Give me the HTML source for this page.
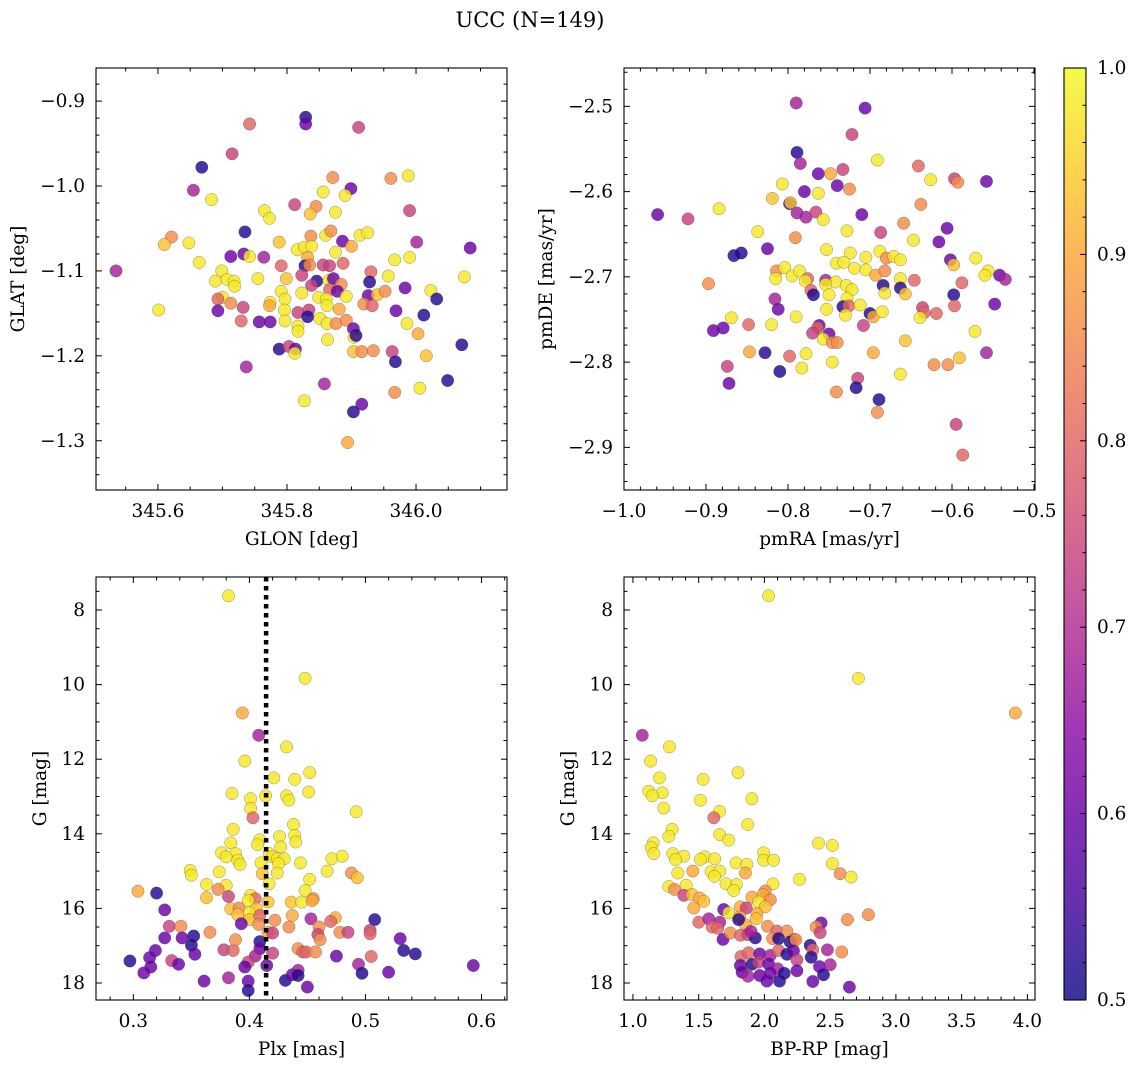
<!DOCTYPE html>
<html><head><meta charset="utf-8"><style>
html,body{margin:0;padding:0;background:#fff;}
svg{display:block;font-family:"DejaVu Serif","Liberation Serif",serif;}
</style></head><body>
<svg id="fig" width="1136" height="1067" viewBox="0 0 1136 1067" xmlns="http://www.w3.org/2000/svg">
<text x="530" y="27" font-size="21" text-anchor="middle">UCC (N=149)</text>
</svg>
<script>
// ---- data: panel 1 (GLON/GLAT) ----
const p1x=[345.829,345.829,345.742,345.911,345.715,345.668,345.655,345.683,345.871,345.961,345.988,345.899,345.856,345.890,345.812,345.845,345.765,345.773,345.836,345.875,345.990,345.735,345.621,345.610,345.648,345.788,345.837,345.860,345.868,345.886,345.900,345.913,345.925,346.001,346.084,345.816,345.827,345.838,345.713,345.733,345.742,345.764,345.832,345.875,345.967,345.990,345.664,345.791,345.828,345.835,345.856,345.866,345.887,345.535,345.699,345.689,345.707,345.718,345.719,345.755,345.799,345.823,345.846,345.838,345.865,345.872,345.884,345.866,345.878,345.930,345.928,345.957,345.983,346.023,346.032,346.075,345.823,345.791,345.797,345.774,345.773,345.700,345.693,345.713,345.732,345.693,345.601,345.849,345.861,345.862,345.892,345.926,345.940,345.952,345.919,345.932,345.881,345.796,345.817,345.834,345.832,345.729,345.757,345.774,345.797,345.817,345.817,345.851,345.862,345.876,345.892,345.903,345.904,345.907,345.863,345.969,346.012,345.986,346.003,346.071,345.788,345.803,345.813,345.812,345.903,345.916,345.934,345.963,345.968,346.016,345.737,345.858,346.049,345.967,346.006,345.827,345.916,345.903,345.894];
const p1y=[-0.919,-0.927,-0.927,-0.931,-0.962,-0.978,-1.005,-1.016,-0.990,-0.991,-0.988,-1.003,-1.007,-1.011,-1.022,-1.024,-1.029,-1.038,-1.033,-1.031,-1.029,-1.054,-1.060,-1.069,-1.067,-1.066,-1.059,-1.058,-1.053,-1.065,-1.071,-1.058,-1.055,-1.066,-1.073,-1.075,-1.072,-1.071,-1.083,-1.080,-1.083,-1.084,-1.084,-1.078,-1.087,-1.084,-1.090,-1.094,-1.094,-1.093,-1.093,-1.094,-1.091,-1.100,-1.100,-1.112,-1.110,-1.112,-1.118,-1.109,-1.109,-1.105,-1.112,-1.117,-1.111,-1.109,-1.116,-1.122,-1.124,-1.101,-1.113,-1.106,-1.120,-1.123,-1.133,-1.107,-1.126,-1.124,-1.133,-1.137,-1.141,-1.131,-1.133,-1.138,-1.143,-1.147,-1.146,-1.131,-1.133,-1.141,-1.130,-1.129,-1.128,-1.124,-1.139,-1.141,-1.145,-1.146,-1.149,-1.146,-1.154,-1.159,-1.160,-1.160,-1.159,-1.165,-1.171,-1.156,-1.162,-1.162,-1.158,-1.168,-1.178,-1.176,-1.181,-1.147,-1.152,-1.162,-1.174,-1.187,-1.192,-1.189,-1.192,-1.197,-1.195,-1.195,-1.194,-1.195,-1.207,-1.200,-1.213,-1.233,-1.229,-1.243,-1.238,-1.253,-1.257,-1.266,-1.302];
const p1c=[.52,.6,.8,.74,.74,.52,.68,.98,.86,.86,.98,.6,.98,.98,.74,.86,.98,.98,.93,.98,.74,.52,.86,.93,.98,.93,.86,.98,.86,.6,.9,.98,.98,.68,.6,.98,.98,.98,.6,.6,.98,.68,.9,.98,.98,.98,.98,.8,.52,.86,.74,.74,.8,.68,.98,.98,.98,.98,.98,.98,.93,.74,.52,.74,.98,.6,.86,.8,.6,.8,.52,.98,.6,.98,.52,.98,.98,.98,.98,.98,.9,.98,.8,.86,.74,.6,.98,.98,.98,.98,.98,.6,.93,.86,.86,.8,.9,.98,.74,.74,.52,.8,.6,.6,.98,.98,.98,.98,.98,.86,.86,.6,.98,.52,.98,.6,.52,.98,.9,.52,.52,.74,.6,.98,.93,.86,.86,.74,.52,.93,.68,.68,.52,.86,.98,.98,.6,.52,.9];
// ---- data: panel 2 (pmRA/pmDE) ----
const p2x=[-0.790,-0.706,-0.722,-0.789,-0.785,-0.691,-0.763,-0.748,-0.733,-0.641,-0.626,-0.597,-0.593,-0.558,-0.807,-0.780,-0.763,-0.740,-0.725,-0.819,-0.798,-0.797,-0.638,-0.959,-0.922,-0.884,-0.789,-0.778,-0.766,-0.757,-0.710,-0.837,-0.791,-0.728,-0.687,-0.659,-0.647,-0.606,-0.616,-0.866,-0.857,-0.825,-0.753,-0.724,-0.705,-0.688,-0.680,-0.671,-0.663,-0.741,-0.732,-0.719,-0.705,-0.602,-0.598,-0.571,-0.556,-0.560,-0.542,-0.535,-0.897,-0.814,-0.804,-0.815,-0.795,-0.786,-0.776,-0.779,-0.754,-0.742,-0.729,-0.722,-0.693,-0.682,-0.663,-0.646,-0.588,-0.772,-0.769,-0.754,-0.750,-0.684,-0.682,-0.663,-0.657,-0.598,-0.816,-0.812,-0.728,-0.733,-0.726,-0.753,-0.712,-0.730,-0.700,-0.696,-0.685,-0.636,-0.634,-0.619,-0.639,-0.597,-0.548,-0.869,-0.891,-0.879,-0.848,-0.820,-0.790,-0.762,-0.764,-0.770,-0.750,-0.757,-0.746,-0.740,-0.708,-0.657,-0.572,-0.847,-0.828,-0.798,-0.778,-0.746,-0.696,-0.622,-0.605,-0.591,-0.558,-0.874,-0.872,-0.810,-0.783,-0.663,-0.715,-0.717,-0.741,-0.689,-0.691,-0.595,-0.587];
const p2y=[-2.496,-2.502,-2.533,-2.554,-2.567,-2.563,-2.579,-2.579,-2.574,-2.570,-2.586,-2.585,-2.589,-2.588,-2.591,-2.600,-2.602,-2.593,-2.597,-2.608,-2.614,-2.613,-2.615,-2.627,-2.632,-2.620,-2.625,-2.630,-2.624,-2.633,-2.627,-2.647,-2.654,-2.646,-2.648,-2.637,-2.657,-2.643,-2.659,-2.675,-2.672,-2.667,-2.668,-2.672,-2.677,-2.670,-2.678,-2.676,-2.680,-2.684,-2.683,-2.690,-2.692,-2.680,-2.686,-2.678,-2.693,-2.698,-2.698,-2.703,-2.708,-2.693,-2.689,-2.702,-2.699,-2.693,-2.702,-2.705,-2.704,-2.706,-2.710,-2.715,-2.698,-2.693,-2.702,-2.704,-2.707,-2.716,-2.721,-2.709,-2.721,-2.710,-2.719,-2.713,-2.720,-2.721,-2.726,-2.738,-2.725,-2.735,-2.734,-2.738,-2.733,-2.745,-2.743,-2.747,-2.741,-2.736,-2.742,-2.743,-2.748,-2.734,-2.732,-2.748,-2.763,-2.760,-2.756,-2.756,-2.747,-2.757,-2.760,-2.766,-2.767,-2.773,-2.777,-2.777,-2.757,-2.775,-2.764,-2.788,-2.789,-2.793,-2.790,-2.800,-2.789,-2.803,-2.803,-2.795,-2.789,-2.805,-2.825,-2.811,-2.807,-2.814,-2.819,-2.830,-2.835,-2.844,-2.859,-2.873,-2.909];
const p2c=[.68,.6,.74,.52,.68,.98,.6,.9,.74,.8,.98,.74,.86,.6,.98,.6,.98,.6,.86,.93,.52,.93,.86,.6,.74,.98,.68,.68,.74,.98,.6,.98,.86,.98,.74,.86,.98,.6,.6,.52,.52,.6,.98,.98,.98,.98,.86,.98,.98,.98,.98,.98,.98,.6,.93,.98,.98,.98,.6,.68,.86,.86,.98,.98,.98,.98,.8,.98,.68,.98,.98,.98,.9,.86,.98,.8,.8,.8,.52,.98,.98,.52,.98,.52,.93,.52,.68,.6,.98,.52,.8,.98,.98,.98,.52,.9,.98,.74,.8,.8,.98,.8,.6,.98,.6,.6,.8,.98,.98,.6,.8,.74,.6,.98,.86,.86,.74,.93,.98,.9,.52,.8,.98,.98,.9,.86,.86,.93,.68,.74,.6,.52,.98,.98,.74,.52,.86,.52,.86,.74,.8];
// ---- data: panel 3 (Plx/G) ----
const p3x=[.382,.448,.394,.408,.432,.396,.452,.421,.439,.451,.385,.401,.414,.432,.434,.401,.492,.403,.438,.386,.426,.439,.440,.384,.409,.407,.427,.376,.388,.380,.390,.392,.417,.420,.424,.430,.410,.425,.444,.471,.480,.349,.350,.374,.424,.411,.467,.488,.493,.452,.417,.363,.380,.373,.304,.320,.382,.363,.401,.405,.399,.448,.416,.436,.445,.455,.454,.327,.384,.391,.406,.400,.390,.400,.409,.422,.437,.453,.474,.470,.508,.331,.341,.366,.393,.408,.416,.420,.434,.460,.459,.461,.478,.485,.504,.504,.327,.342,.352,.350,.353,.319,.314,.297,.333,.339,.315,.309,.378,.386,.388,.409,.409,.405,.399,.396,.420,.415,.442,.446,.449,.457,.475,.494,.505,.497,.520,.530,.533,.543,.593,.361,.382,.399,.399,.431,.437,.442,.442,.450];
const p3y=[7.62,9.83,10.76,11.36,11.67,12.05,12.36,12.50,12.54,12.88,12.92,13.06,12.98,12.98,13.10,13.32,13.41,13.57,13.75,13.88,14.07,14.04,14.22,14.24,14.16,14.29,14.35,14.51,14.53,14.62,14.71,14.82,14.53,14.62,14.67,14.67,14.78,14.80,14.78,14.67,14.60,14.98,15.11,15.02,15.05,15.07,15.00,15.05,15.18,15.22,15.34,15.36,15.38,15.49,15.54,15.59,15.68,15.71,15.65,15.74,15.79,15.52,15.83,15.83,15.83,15.74,15.79,16.04,16.01,15.99,16.01,16.12,16.17,16.30,16.19,16.32,16.19,16.28,16.25,16.35,16.30,16.48,16.48,16.64,16.41,16.43,16.64,16.66,16.50,16.50,16.70,16.84,16.64,16.64,16.59,16.68,16.79,16.79,16.74,16.99,17.23,17.13,17.32,17.41,17.40,17.50,17.57,17.73,17.11,17.13,16.84,16.89,17.08,17.28,17.44,17.57,17.20,17.53,17.08,17.17,17.17,17.17,17.28,17.50,17.29,17.74,17.71,16.81,17.13,17.22,17.53,17.95,17.86,17.95,18.20,17.93,17.78,17.66,17.80,18.11];
const p3c=[.98,.98,.9,.68,.98,.98,.98,.98,.98,.98,.98,.98,.98,.98,.98,.98,.98,.8,.98,.98,.98,.98,.98,.98,.98,.98,.98,.98,.98,.98,.98,.98,.98,.98,.98,.98,.98,.98,.98,.98,.98,.98,.98,.98,.98,.93,.98,.86,.93,.98,.98,.98,.98,.86,.9,.52,.74,.93,.98,.8,.98,.98,.93,.93,.98,.86,.9,.6,.93,.86,.93,.98,.93,.93,.8,.86,.9,.68,.9,.8,.52,.74,.86,.86,.6,.86,.9,.74,.86,.86,.74,.86,.86,.74,.74,.8,.6,.6,.52,.52,.6,.6,.6,.52,.74,.6,.6,.6,.74,.8,.86,.52,.6,.68,.74,.6,.74,.6,.86,.8,.8,.86,.6,.68,.8,.52,.6,.6,.52,.52,.6,.6,.68,.6,.52,.52,.6,.68,.52,.6];
const plxMean=[0.4144];
// ---- data: panel 4 (BP-RP/G) ----
const p4x=[2.032,2.715,3.908,1.071,1.278,1.134,1.799,1.202,1.534,1.121,1.223,1.147,1.905,1.513,1.235,1.658,1.615,1.873,1.298,1.273,1.660,1.728,2.411,2.517,1.154,1.139,1.159,1.303,1.387,1.324,1.546,1.513,1.622,1.994,1.994,2.070,1.784,1.867,1.855,1.341,1.455,1.594,1.660,1.620,2.517,2.576,2.659,2.267,1.273,1.316,1.405,1.708,1.787,1.766,2.065,2.007,1.387,1.450,1.508,1.539,1.905,1.989,2.045,1.956,1.463,1.690,1.728,1.817,1.862,2.007,1.943,1.938,1.812,1.501,1.577,1.660,1.602,1.645,1.855,1.804,1.685,1.741,1.817,1.873,1.931,1.898,2.024,2.095,2.171,2.062,2.108,2.227,2.196,2.239,2.431,2.394,2.424,2.631,2.791,2.348,2.368,2.356,2.479,2.588,1.822,1.880,1.964,2.045,2.108,2.171,2.221,2.247,1.817,1.905,1.956,2.032,2.100,1.830,1.875,1.964,2.045,2.151,2.019,2.115,2.247,2.419,2.500,2.449,2.368,2.646];
const p4y=[7.62,9.83,10.76,11.36,11.67,12.05,12.36,12.50,12.54,12.86,12.90,12.98,13.06,13.10,13.31,13.40,13.57,13.75,13.88,14.07,14.02,14.17,14.25,14.31,14.24,14.37,14.53,14.53,14.60,14.69,14.62,14.69,14.67,14.51,14.71,14.71,14.78,14.82,15.05,15.05,15.00,15.02,15.00,15.14,14.80,15.07,15.16,15.22,15.41,15.49,15.38,15.34,15.36,15.52,15.34,15.53,15.65,15.63,15.72,15.81,15.70,15.63,15.77,15.83,15.99,16.03,16.12,15.96,15.99,15.96,16.14,16.28,16.23,16.37,16.28,16.37,16.50,16.53,16.44,16.30,16.83,16.66,16.72,16.70,16.79,16.62,16.48,16.61,16.61,16.81,16.81,16.83,16.90,16.84,16.39,16.50,16.65,16.30,16.17,16.99,17.11,17.31,17.11,17.17,17.29,17.19,17.22,17.26,17.13,17.23,17.14,17.38,17.53,17.50,17.44,17.49,17.62,17.71,17.82,17.80,17.74,17.74,17.95,17.95,17.67,17.56,17.51,17.78,17.96,18.11];
const p4c=[.98,.98,.9,.68,.98,.98,.98,.98,.98,.98,.98,.98,.98,.98,.98,.98,.8,.98,.98,.98,.98,.98,.98,.98,.98,.98,.98,.98,.98,.98,.98,.98,.98,.98,.98,.98,.98,.98,.9,.98,.9,.98,.98,.98,.98,.86,.98,.98,.98,.86,.98,.98,.98,.98,.98,.86,.74,.93,.9,.93,.9,.9,.86,.98,.9,.6,.98,.9,.74,.93,.9,.93,.9,.8,.68,.68,.8,.8,.9,.52,.6,.86,.8,.74,.52,.68,.86,.8,.86,.86,.52,.8,.52,.86,.6,.86,.74,.86,.86,.52,.8,.52,.68,.86,.8,.8,.6,.68,.8,.52,.6,.74,.6,.52,.74,.6,.68,.6,.68,.6,.6,.52,.6,.52,.6,.6,.68,.52,.6,.6];
// ---- tick labels ----
const p1xTicks=[345.6,345.8,346.0], p1yTicks=[-0.9,-1.0,-1.1,-1.2,-1.3];
const p2xTicks=[-1.0,-0.9,-0.8,-0.7,-0.6,-0.5], p2yTicks=[-2.5,-2.6,-2.7,-2.8,-2.9];
const p3xTicks=[0.3,0.4,0.5,0.6], gTicks=[8,10,12,14,16,18];
const p4xTicks=[1.0,1.5,2.0,2.5,3.0,3.5,4.0];
const cbTicks=[0.5,0.6,0.7,0.8,0.9,1.0];

const NS="http://www.w3.org/2000/svg";
const FS=18.5;
const svg=document.getElementById('fig');
function mk(tag,attrs,parent){const e=document.createElementNS(NS,tag);for(const k in attrs)e.setAttribute(k,attrs[k]);(parent||svg).appendChild(e);return e;}
const stops=[[13,8,135],[65,4,157],[106,0,168],[143,13,164],[177,42,144],[204,71,120],[225,100,98],[242,132,75],[252,166,54],[252,206,37],[240,249,33]];
function plasma(t){t=Math.max(0,Math.min(1,t))*10;const i=Math.min(9,Math.floor(t)),f=t-i;const a=stops[i],b=stops[i+1];return 'rgb('+a.map((v,k)=>Math.round(v+(b[k]-v)*f)).join(',')+')';}
function cmap(p){return plasma((p-0.5)/0.5);}
function fmt(v,d){return (v<0?'\u2212':'')+Math.abs(v).toFixed(d);}

const panels=[
 {name:'glon-glat',x0:96,x1:507,y0:68,y1:490,xa:345.504,xb:346.141,ya:-0.861,yb:-1.358,xs:p1x,ys:p1y,cs:p1c,xt:p1xTicks,yt:p1yTicks,xd:1,yd:1,xmin:0.05,ymin:0.02,xl:'GLON [deg]',yl:'GLAT [deg]',ylx:18},
 {name:'pmra-pmde',x0:624,x1:1035,y0:68,y1:490,xa:-1.0,xb:-0.4988,ya:-2.455,yb:-2.950,xs:p2x,ys:p2y,cs:p2c,xt:p2xTicks,yt:p2yTicks,xd:1,yd:1,xmin:0.02,ymin:0.02,xl:'pmRA [mas/yr]',yl:'pmDE [mas/yr]',ylx:546},
 {name:'plx-g',x0:96,x1:507,y0:577,y1:1000,xa:0.2678,xb:0.622,ya:7.115,yb:18.456,xs:p3x,ys:p3y,cs:p3c,xt:p3xTicks,yt:gTicks,xd:1,yd:0,xmin:0.02,ymin:0.5,xl:'Plx [mas]',yl:'G [mag]',ylx:40},
 {name:'bprp-g',x0:624,x1:1035,y0:577,y1:1000,xa:0.932,xb:4.058,ya:7.115,yb:18.456,xs:p4x,ys:p4y,cs:p4c,xt:p4xTicks,yt:gTicks,xd:1,yd:0,xmin:0.1,ymin:0.5,xl:'BP-RP [mag]',yl:'G [mag]',ylx:568}
];

panels.forEach((P,pi)=>{
 const sx=v=>P.x0+(v-P.xa)/(P.xb-P.xa)*(P.x1-P.x0);
 const sy=v=>P.y0+(v-P.ya)/(P.yb-P.ya)*(P.y1-P.y0);
 const g=mk('g',{});
 
 
 const clipId='clip'+pi;
 const cp=mk('clipPath',{id:clipId},g);mk('rect',{x:P.x0,y:P.y0,width:P.x1-P.x0,height:P.y1-P.y0},cp);
 const pts=mk('g',{'clip-path':'url(#'+clipId+')'},g);
 
 
 const n=Math.min(P.xs.length,P.ys.length,P.cs.length);
 for(let i=0;i<n;i++){
  const c=mk('circle',{cx:sx(P.xs[i]).toFixed(1),cy:sy(P.ys[i]).toFixed(1),r:6.2,fill:cmap(P.cs[i]),'fill-opacity':0.82,stroke:'#333','stroke-opacity':0.5,'stroke-width':0.5},pts);
  
  
 }
 if(pi===2){
  const xl=sx(plxMean[0]);
  const ln=mk('line',{x1:xl,x2:xl,y1:P.y0,y2:P.y1,stroke:'#000','stroke-width':4.5,'stroke-dasharray':'4.5 4.5'},g);
  
  
 }
 const fr=mk('rect',{x:P.x0,y:P.y0,width:P.x1-P.x0,height:P.y1-P.y0,fill:'none',stroke:'#000','stroke-width':1.1},g);
 
 
 const lo=Math.min(P.xa,P.xb),hi=Math.max(P.xa,P.xb);
 for(let v=Math.ceil(lo/P.xmin-1e-6)*P.xmin;v<=hi+1e-9;v+=P.xmin){
  const major=P.xt.some(t=>Math.abs(t-v)<P.xmin/4);const L=major?6:3.5;const x=sx(v);
  mk('line',{x1:x,x2:x,y1:P.y1,y2:P.y1-L,stroke:'#000','stroke-width':1},g);
  mk('line',{x1:x,x2:x,y1:P.y0,y2:P.y0+L,stroke:'#000','stroke-width':1},g);
 }
 const ylo=Math.min(P.ya,P.yb),yhi=Math.max(P.ya,P.yb);
 for(let v=Math.ceil(ylo/P.ymin-1e-6)*P.ymin;v<=yhi+1e-9;v+=P.ymin){
  const major=P.yt.some(t=>Math.abs(t-v)<P.ymin/4);const L=major?6:3.5;const y=sy(v);
  mk('line',{x1:P.x0,x2:P.x0+L,y1:y,y2:y,stroke:'#000','stroke-width':1},g);
  mk('line',{x1:P.x1,x2:P.x1-L,y1:y,y2:y,stroke:'#000','stroke-width':1},g);
 }
 P.xt.forEach(v=>{const t=mk('text',{x:sx(v),y:P.y1+27,'font-size':FS,'text-anchor':'middle'},g);t.textContent=fmt(v,P.xd);
  
  });
 P.yt.forEach(v=>{const t=mk('text',{x:P.x0-11,y:sy(v)+6,'font-size':FS,'text-anchor':'end'},g);t.textContent=fmt(v,P.yd);
  
  });
 const xt=mk('text',{x:(P.x0+P.x1)/2,y:P.y1+55,'font-size':FS,'text-anchor':'middle'},g);xt.textContent=P.xl;
 
 
 const cy=(P.y0+P.y1)/2;
 const yt=mk('text',{x:P.ylx,y:cy,'font-size':FS,'text-anchor':'middle',transform:'rotate(-90 '+P.ylx+' '+cy+')',dy:6},g);yt.textContent=P.yl;
 
 
});

const cb={x0:1064,x1:1086,y0:68,y1:1000};
const cbg=mk('g',{});


const defs=mk('defs',{},cbg);
const lg=mk('linearGradient',{id:'cbgrad',x1:0,y1:1,x2:0,y2:0},defs);
for(let i=0;i<=20;i++){mk('stop',{offset:(i/20),'stop-color':plasma(i/20),'stop-opacity':0.82},lg);}
mk('rect',{x:cb.x0,y:cb.y0,width:cb.x1-cb.x0,height:cb.y1-cb.y0,fill:'url(#cbgrad)',stroke:'#000','stroke-width':1.1},cbg);
const cy=v=>cb.y1-(v-0.5)/0.5*(cb.y1-cb.y0);
for(let k=0;k<=25;k++){const v=0.5+k*0.02;const major=k%5===0;const y=cy(v);
 mk('line',{x1:cb.x1,x2:cb.x1-(major?6:3.5),y1:y,y2:y,stroke:'#000','stroke-width':1},cbg);}
cbTicks.forEach(v=>{const t=mk('text',{x:cb.x1+11,y:cy(v)+6,'font-size':FS},cbg);t.textContent=v.toFixed(1);
 
 });
</script>
</body></html>
